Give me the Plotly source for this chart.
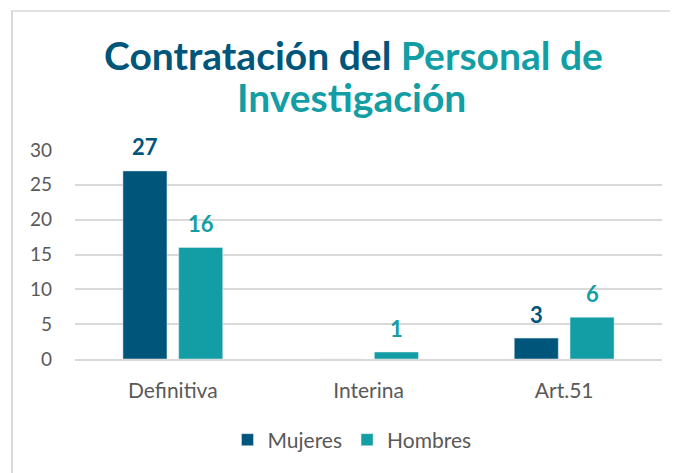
import plotly.graph_objects as go

categories = ["Definitiva", "Interina", "Art.51"]
mujeres = [27, 0, 3]
hombres = [16, 1, 6]
y_ticks = [0, 5, 10, 15, 20, 25, 30]

C_M = "#00567a"
C_H = "#129ea4"
FONT = "Lato"

OFF = 8  # page body margin
W, H = 678 - OFF, 473 - OFF
L, T = 75 - OFF, 150 - OFF
R = W - (662 - OFF)
B = H - (359 - OFF)
pw = W - L - R
ph = H - T - B

def px(x):
    return (x - OFF - L) / pw

def py(y):
    return (H - B - (y - OFF)) / ph

fig = go.Figure()
fig.add_trace(go.Bar(name="Mujeres", x=categories, y=mujeres, marker_color=C_M))
fig.add_trace(go.Bar(name="Hombres", x=categories, y=hombres, marker_color=C_H))

ann = []
for vals, col, xs in ((mujeres, C_M, -28), (hombres, C_H, 28)):
    for c, v in zip(categories, vals):
        if v:
            ann.append(dict(x=c, y=v, text=f"<b>{v}</b>", showarrow=False,
                            xshift=xs, yshift=24, yanchor="middle",
                            font=dict(family=FONT, size=22, color=col)))

ann.append(dict(xref="paper", yref="paper", x=px(353), y=py(55), yanchor="middle",
                showarrow=False, align="center",
                text=f"<b><span style='color:{C_M}'>Contratación del </span>"
                     f"<span style='color:{C_H}'>Personal de</span></b>",
                font=dict(family=FONT, size=39, color=C_H)))
ann.append(dict(xref="paper", yref="paper", x=px(351), y=py(97), yanchor="middle",
                showarrow=False, align="center",
                text="<b>Investigación</b>",
                font=dict(family=FONT, size=39, color=C_H)))

fig.update_layout(
    width=W, height=H,
    margin=dict(l=L, r=R, t=T, b=B, autoexpand=False),
    paper_bgcolor="white", plot_bgcolor="white",
    barmode="group", bargap=0.43, bargroupgap=0.21,
    font=dict(family=FONT, size=18, color="#595959"),
    annotations=ann,
    showlegend=True,
    legend=dict(orientation="h", x=px(352), xanchor="center", y=py(440), yanchor="middle",
                font=dict(family=FONT, size=21, color="#595959"), itemwidth=30,
                traceorder="normal"),
    shapes=[
        dict(type="line", xref="paper", yref="paper",
             x0=px(11), x1=px(700), y0=py(11), y1=py(11),
             line=dict(color="#d9d9d9", width=1.5), layer="below"),
        dict(type="line", xref="paper", yref="paper",
             x0=px(12), x1=px(12), y0=py(11), y1=py(500),
             line=dict(color="#d9d9d9", width=2), layer="below"),
    ],
    xaxis=dict(showgrid=False, ticks="", showline=True, linecolor="#d9d9d9", linewidth=2,
               ticklabelstandoff=12, tickfont=dict(size=21, color="#595959")),
    yaxis=dict(range=[0, 30], tickvals=y_ticks, showgrid=True, gridcolor="#d9d9d9",
               gridwidth=1.5, zeroline=False, showline=False, ticks="",
               ticklabelstandoff=22, tickfont=dict(size=19, color="#595959")),
)

fig.write_html("out.html", post_script="document.documentElement.style.overflow='hidden';document.body.style.overflow='hidden';")
